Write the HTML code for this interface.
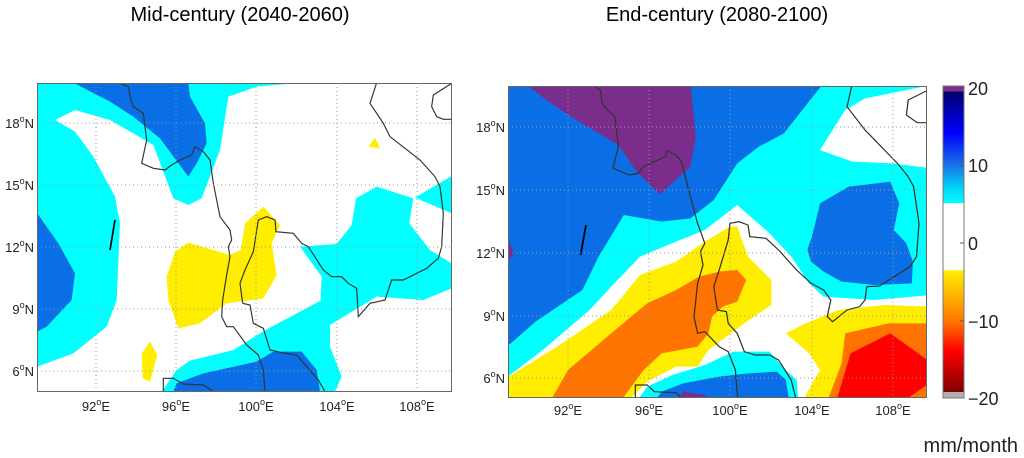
<!DOCTYPE html>
<html><head><meta charset="utf-8"><style>
html,body{margin:0;padding:0;background:#fff;}
svg{display:block;font-family:"Liberation Sans",sans-serif;}
</style></head><body>
<svg width="1024" height="458" viewBox="0 0 1024 458" xmlns="http://www.w3.org/2000/svg">
<defs>
<clipPath id="cl"><rect x="37" y="83" width="415" height="309"/></clipPath>
<clipPath id="cr"><rect x="508" y="86" width="419" height="312"/></clipPath>
<linearGradient id="cb" x1="0" y1="0" x2="0" y2="1">
<stop offset="0" stop-color="#7b2d8b"/><stop offset="0.017" stop-color="#7b2d8b"/>
<stop offset="0.018" stop-color="#00006e"/><stop offset="0.15" stop-color="#0000ff"/>
<stop offset="0.25" stop-color="#1a6fe6"/><stop offset="0.33" stop-color="#00d8f8"/>
<stop offset="0.375" stop-color="#00ffff"/><stop offset="0.376" stop-color="#fff"/>
<stop offset="0.59" stop-color="#fff"/><stop offset="0.591" stop-color="#ffee00"/>
<stop offset="0.75" stop-color="#ff7a00"/><stop offset="0.85" stop-color="#ff0000"/>
<stop offset="0.98" stop-color="#800000"/><stop offset="0.981" stop-color="#b0b0b0"/>
<stop offset="1" stop-color="#b0b0b0"/>
</linearGradient>
</defs>
<text x="240" y="21" font-size="20" text-anchor="middle">Mid-century (2040-2060)</text>
<text x="717" y="21" font-size="20" text-anchor="middle">End-century (2080-2100)</text>

<!-- LEFT MAP -->
<rect x="37" y="83" width="415" height="309" fill="#fff"/>
<g clip-path="url(#cl)">
<g transform="translate(0,70) scale(0.33333)">
<polygon fill="#00ffff" points="112,38 900,38 770,50 685,80 660,240 605,385 565,405 520,385 460,225 330,150 225,120 165,150 225,185 280,260 345,380 360,460 350,690 320,770 220,850 112,890"/>
<polygon fill="#00ffff" points="900,530 1010,522 1055,465 1068,385 1130,350 1240,385 1228,460 1290,540 1355,580 1355,655 1270,690 1130,680 990,765 990,830 1025,920 1005,965 485,965 530,900 570,872 700,840 800,778 962,692 965,620"/>
<polygon fill="#00ffff" points="1245,383 1355,318 1355,430"/>
<polygon fill="#0a6fe6" points="112,430 175,520 225,610 215,690 140,770 112,785"/>
<polygon fill="#0a6fe6" points="220,38 565,38 570,80 615,160 620,220 590,280 565,320 480,205 400,140 330,95"/>
<polygon fill="#0a6fe6" points="530,940 610,910 770,875 820,845 905,845 950,900 960,965 520,965"/>
<polygon fill="#ffee00" points="500,620 525,545 565,518 690,555 722,540 735,460 790,410 840,465 815,520 830,615 790,685 680,700 600,760 535,775 505,690"/>
<polygon fill="#ffee00" points="425,850 450,815 472,855 450,935 428,925"/>
<polygon fill="#ffee00" points="1105,230 1125,203 1140,235"/>
<g fill="none" stroke="#333" stroke-width="3.5">
<polyline points="355,38 385,50 390,80 400,110 430,130 440,210 425,280 460,295 495,300 515,285 540,270 575,255 585,230 610,245 630,270 640,340 660,440 690,480 695,510 685,530 690,560 680,615 668,690 665,740 680,770 700,770 740,825 775,855 790,900 795,965"/>
<polyline points="728,700 720,640 735,600 760,545 775,450 800,440 825,450 828,485 880,490 905,520 925,530 970,600 995,620 1025,620 1045,640 1070,655 1075,740 1110,700 1155,690 1175,630 1210,630 1280,595 1315,565 1325,530 1330,430 1320,350 1305,320 1260,270 1215,235 1170,200 1150,160 1110,100 1130,38"/>
<polyline points="728,700 750,705 760,760 790,775 810,840 855,850 890,855 920,890 955,930 975,965"/>
<polyline points="490,965 490,925 520,925 550,942 610,945 640,965"/>
<polyline points="1355,40 1300,75 1295,110 1310,140 1330,148 1355,148"/>
<polyline points="330,540 345,450" stroke="#000" stroke-width="5"/>
</g>
</g>
<g stroke="#999" stroke-width="1" stroke-dasharray="1,3">
<line x1="96" y1="83" x2="96" y2="392"/><line x1="176" y1="83" x2="176" y2="392"/><line x1="256" y1="83" x2="256" y2="392"/><line x1="337" y1="83" x2="337" y2="392"/><line x1="417" y1="83" x2="417" y2="392"/>
<line x1="37" y1="123" x2="452" y2="123"/><line x1="37" y1="185" x2="452" y2="185"/><line x1="37" y1="247" x2="452" y2="247"/><line x1="37" y1="309" x2="452" y2="309"/><line x1="37" y1="371" x2="452" y2="371"/>
</g>
</g>
<rect x="37.5" y="83.5" width="414" height="308" fill="none" stroke="#666" stroke-width="1"/>
<g font-size="13" fill="#222">
<g text-anchor="end">
<text x="34" y="128">18<tspan font-size="9" dy="-6">o</tspan><tspan dy="6">N</tspan></text>
<text x="34" y="190">15<tspan font-size="9" dy="-6">o</tspan><tspan dy="6">N</tspan></text>
<text x="34" y="252">12<tspan font-size="9" dy="-6">o</tspan><tspan dy="6">N</tspan></text>
<text x="34" y="314">9<tspan font-size="9" dy="-6">o</tspan><tspan dy="6">N</tspan></text>
<text x="34" y="376">6<tspan font-size="9" dy="-6">o</tspan><tspan dy="6">N</tspan></text>
</g>
<g text-anchor="middle">
<text x="96" y="411">92<tspan font-size="9" dy="-6">o</tspan><tspan dy="6">E</tspan></text>
<text x="176" y="411">96<tspan font-size="9" dy="-6">o</tspan><tspan dy="6">E</tspan></text>
<text x="256" y="411">100<tspan font-size="9" dy="-6">o</tspan><tspan dy="6">E</tspan></text>
<text x="337" y="411">104<tspan font-size="9" dy="-6">o</tspan><tspan dy="6">E</tspan></text>
<text x="417" y="411">108<tspan font-size="9" dy="-6">o</tspan><tspan dy="6">E</tspan></text>
</g>
</g>

<!-- RIGHT MAP -->
<rect x="508" y="86" width="419" height="312" fill="#0a6fe6"/>
<g clip-path="url(#cr)">
<g transform="translate(460,70) scale(0.36,0.33333)">
<polygon fill="#7b2d8b" points="180,40 640,40 655,200 640,290 600,330 555,372 490,305 440,225 330,155 240,90"/>
<polygon fill="#7b2d8b" points="120,470 150,550 120,590"/>
<polygon fill="#00ffff" points="120,840 210,755 340,660 385,560 455,435 560,455 640,445 705,390 770,280 830,230 900,190 980,80 1010,40 1310,40 1310,995 120,995"/>
<polygon fill="#fff" points="120,930 230,840 360,720 420,650 500,560 600,515 680,480 770,405 860,490 920,560 970,640 1010,680 1150,690 1310,675 1310,995 120,995"/>
<polygon fill="#fff" points="1000,240 1070,120 1125,85 1310,45 1310,295 1200,280 1090,275"/>
<polygon fill="#0a6fe6" points="965,540 980,490 1000,400 1080,350 1195,335 1220,400 1205,480 1240,520 1258,575 1255,640 1150,645 1060,635 1010,605 975,575"/>
<polygon fill="#00ffff" points="490,995 520,950 590,915 680,885 760,845 860,845 900,895 935,930 940,995"/>
<polygon fill="#0a6fe6" points="540,995 560,965 620,940 720,920 800,910 880,905 905,930 915,995"/>
<polygon fill="#7b2d8b" points="600,995 620,965 680,975 700,995"/>
<polygon fill="#ffee00" points="120,930 270,830 420,720 500,615 600,575 680,515 750,470 770,470 790,530 800,560 865,630 865,705 830,730 790,760 740,800 690,840 660,890 600,890 520,935 465,995 120,995"/>
<polygon fill="#ff7300" points="250,995 300,900 420,790 520,700 600,660 665,620 720,605 770,600 795,630 770,695 730,710 700,740 690,790 660,830 560,850 510,900 445,995"/>
<polygon fill="#ffee00" points="905,790 960,760 1050,720 1180,705 1310,710 1310,995 950,995 1000,900 970,850"/>
<polygon fill="#ff7300" points="1020,995 1060,880 1070,790 1190,760 1310,760 1310,995"/>
<polygon fill="#ff0000" points="1045,995 1085,850 1195,790 1260,840 1310,880 1310,935 1230,995"/>
<g fill="none" stroke="#333" stroke-width="3.5">
<polyline points="360,40 390,60 395,100 410,120 430,140 440,230 425,295 470,315 495,310 510,290 540,275 570,260 577,242 600,255 615,275 640,380 660,460 680,520 668,545 675,585 660,640 650,740 660,790 680,785 720,830 745,845 765,900 772,995"/>
<polyline points="715,720 705,650 720,600 745,510 750,460 775,455 800,465 805,500 850,505 885,540 935,600 975,640 1010,660 1030,690 1020,740 1035,755 1075,720 1110,710 1125,690 1130,650 1165,648 1250,590 1268,560 1275,460 1260,350 1245,320 1215,280 1170,230 1125,180 1075,110 1090,40"/>
<polyline points="715,720 740,725 745,760 770,790 790,845 820,855 860,855 885,870 920,930 935,995"/>
<polyline points="1310,55 1245,90 1240,135 1270,158 1310,158"/>
<polyline points="487,995 487,945 520,945 540,965 600,968 625,995"/>
<polyline points="350,465 335,555" stroke="#000" stroke-width="5"/>
</g>
</g>
<g stroke="#999" stroke-width="1" stroke-dasharray="1,3">
<line x1="568" y1="86" x2="568" y2="398"/><line x1="649" y1="86" x2="649" y2="398"/><line x1="730" y1="86" x2="730" y2="398"/><line x1="812" y1="86" x2="812" y2="398"/><line x1="893" y1="86" x2="893" y2="398"/>
<line x1="508" y1="127" x2="927" y2="127"/><line x1="508" y1="190" x2="927" y2="190"/><line x1="508" y1="253" x2="927" y2="253"/><line x1="508" y1="316" x2="927" y2="316"/><line x1="508" y1="378" x2="927" y2="378"/>
</g>
</g>
<rect x="508.5" y="86.5" width="418" height="311" fill="none" stroke="#666" stroke-width="1"/>
<g font-size="13" fill="#222">
<g text-anchor="end">
<text x="505" y="132">18<tspan font-size="9" dy="-6">o</tspan><tspan dy="6">N</tspan></text>
<text x="505" y="195">15<tspan font-size="9" dy="-6">o</tspan><tspan dy="6">N</tspan></text>
<text x="505" y="258">12<tspan font-size="9" dy="-6">o</tspan><tspan dy="6">N</tspan></text>
<text x="505" y="321">9<tspan font-size="9" dy="-6">o</tspan><tspan dy="6">N</tspan></text>
<text x="505" y="383">6<tspan font-size="9" dy="-6">o</tspan><tspan dy="6">N</tspan></text>
</g>
<g text-anchor="middle">
<text x="568" y="415">92<tspan font-size="9" dy="-6">o</tspan><tspan dy="6">E</tspan></text>
<text x="649" y="415">96<tspan font-size="9" dy="-6">o</tspan><tspan dy="6">E</tspan></text>
<text x="730" y="415">100<tspan font-size="9" dy="-6">o</tspan><tspan dy="6">E</tspan></text>
<text x="812" y="415">104<tspan font-size="9" dy="-6">o</tspan><tspan dy="6">E</tspan></text>
<text x="893" y="415">108<tspan font-size="9" dy="-6">o</tspan><tspan dy="6">E</tspan></text>
</g>
</g>

<!-- COLORBAR -->
<rect x="943" y="86" width="21" height="312" fill="url(#cb)" stroke="#777" stroke-width="1"/>
<g stroke="#555"><line x1="960" y1="166" x2="964" y2="166"/><line x1="960" y1="243" x2="964" y2="243"/><line x1="960" y1="321" x2="964" y2="321"/></g>
<g font-size="18" fill="#222">
<text x="968" y="95">20</text>
<text x="968" y="172">10</text>
<text x="968" y="250">0</text>
<text x="968" y="328">−10</text>
<text x="968" y="405">−20</text>
</g>
<text x="1018" y="452" font-size="20" text-anchor="end" fill="#222">mm/month</text>
</svg>
</body></html>
